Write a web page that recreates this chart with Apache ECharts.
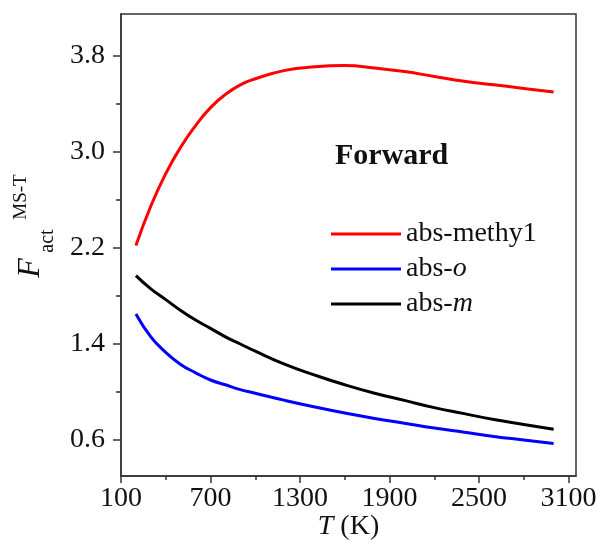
<!DOCTYPE html>
<html>
<head>
<meta charset="utf-8">
<script src="https://cdn.jsdelivr.net/npm/echarts@6/dist/echarts.min.js"></script>
<style>
  html, body { margin: 0; padding: 0; background: #fff; }
  #main { width: 603px; height: 554px; }
</style>
</head>
<body>
<div id="main"></div>
<script>
// 温度 T (K)
var temps = [200, 300, 400, 500, 600, 700, 800, 900, 1000, 1200, 1400, 1600, 1800, 2000, 2200, 2400, 2600, 2800, 3000]
var absMethyl = [2.22, 2.55, 2.82, 3.04, 3.22, 3.37, 3.48, 3.56, 3.61, 3.68, 3.71, 3.72, 3.70, 3.67, 3.63, 3.59, 3.56, 3.53, 3.50]
var absO = [1.65, 1.46, 1.33, 1.23, 1.16, 1.10, 1.06, 1.02, 0.99, 0.93, 0.875, 0.825, 0.78, 0.74, 0.70, 0.665, 0.63, 0.60, 0.57]
var absM = [1.97, 1.86, 1.77, 1.68, 1.60, 1.53, 1.46, 1.40, 1.34, 1.23, 1.14, 1.06, 0.99, 0.93, 0.87, 0.82, 0.77, 0.73, 0.69]

var xMajor = [100, 700, 1300, 1900, 2500, 3100]
var xMinor = [400, 1000, 1600, 2200, 2800]
var yMajor = [0.6, 1.4, 2.2, 3.0, 3.8]
var yMinor = [1.0, 1.8, 2.6, 3.4]

function pairs(ys) {
    return temps.map(function (t, i) { return [t, ys[i]] })
}

var font = 'Liberation Serif'
var axisColor = '#333'

var myChart = echarts.init(document.getElementById('main'))

var option = {
    animation: false,
    grid: {
        left: 121, top: 14, right: 27, bottom: 78,
        show: true, borderColor: axisColor, borderWidth: 1.5
    },
    legend: {
        orient: 'vertical',
        left: 331, top: 220, padding: 0,
        itemWidth: 70, itemHeight: 3, itemGap: 7,
        icon: 'rect',
        textStyle: {
            fontFamily: font, fontSize: 28, color: '#111', lineHeight: 28,
            rich: { i: { fontFamily: font, fontSize: 28, fontStyle: 'italic', color: '#111' } }
        },
        formatter: function (name) {
            if (name === 'abs-o') return 'abs-{i|o}'
            if (name === 'abs-m') return 'abs-{i|m}'
            return name
        },
        data: ['abs-methy1', 'abs-o', 'abs-m']
    },
    xAxis: [{
        type: 'value', min: 100, max: 3150,
        axisLine: { show: true, lineStyle: { color: axisColor, width: 1.5 } },
        axisTick: { show: true, length: 7, customValues: xMajor, lineStyle: { color: axisColor, width: 1.5 } },
        axisLabel: {
            customValues: xMajor, margin: 9, fontFamily: font, fontSize: 28, color: '#111',
            formatter: function (v) { return String(v) }
        },
        splitLine: { show: false }
    }, {
        type: 'value', min: 100, max: 3150, position: 'bottom',
        axisLine: { show: false },
        axisTick: { show: true, length: 4, customValues: xMinor, lineStyle: { color: axisColor, width: 1.5 } },
        axisLabel: { show: false },
        splitLine: { show: false }
    }],
    yAxis: [{
        type: 'value', min: 0.3, max: 4.15,
        axisLine: { show: true, lineStyle: { color: axisColor, width: 1.5 } },
        axisTick: { show: true, length: 8, customValues: yMajor, lineStyle: { color: axisColor, width: 1.5 } },
        axisLabel: {
            customValues: yMajor, margin: 16, fontFamily: font, fontSize: 28, color: '#111',
            formatter: function (v) { return v.toFixed(1) }
        },
        splitLine: { show: false }
    }, {
        type: 'value', min: 0.3, max: 4.15, position: 'left',
        axisLine: { show: false },
        axisTick: { show: true, length: 5, customValues: yMinor, lineStyle: { color: axisColor, width: 1.5 } },
        axisLabel: { show: false },
        splitLine: { show: false }
    }],
    graphic: [
        {
            type: 'text', left: 335, top: 141,
            style: { text: 'Forward', fontFamily: font, fontSize: 30, fontWeight: 'bold', fill: '#111' }
        },
        {
            type: 'text', x: 348.5, y: 527,
            style: {
                text: '{i|T} (K)', fontFamily: font, fontSize: 28, fill: '#111',
                align: 'center', verticalAlign: 'middle',
                rich: { i: { fontFamily: font, fontSize: 28, fontStyle: 'italic', fill: '#111' } }
            }
        },
        {
            type: 'text', x: 31, y: 268, rotation: Math.PI / 2,
            style: { text: 'F', fontFamily: font, fontSize: 32, fontStyle: 'italic', fill: '#111', align: 'center', verticalAlign: 'middle' }
        },
        {
            type: 'text', x: 48, y: 241, rotation: Math.PI / 2,
            style: { text: 'act', fontFamily: font, fontSize: 20, fill: '#111', align: 'center', verticalAlign: 'middle' }
        },
        {
            type: 'text', x: 21, y: 197, rotation: Math.PI / 2,
            style: { text: 'MS-T', fontFamily: font, fontSize: 19, fill: '#111', align: 'center', verticalAlign: 'middle' }
        }
    ],
    series: [
        { name: 'abs-methy1', type: 'line', data: pairs(absMethyl), smooth: true, showSymbol: false, lineStyle: { color: '#ff0000', width: 3 }, itemStyle: { color: '#ff0000' } },
        { name: 'abs-o', type: 'line', data: pairs(absO), smooth: true, showSymbol: false, lineStyle: { color: '#0000ff', width: 3 }, itemStyle: { color: '#0000ff' } },
        { name: 'abs-m', type: 'line', data: pairs(absM), smooth: true, showSymbol: false, lineStyle: { color: '#000000', width: 3 }, itemStyle: { color: '#000000' } }
    ]
}

myChart.setOption(option)
</script>
</body>
</html>
